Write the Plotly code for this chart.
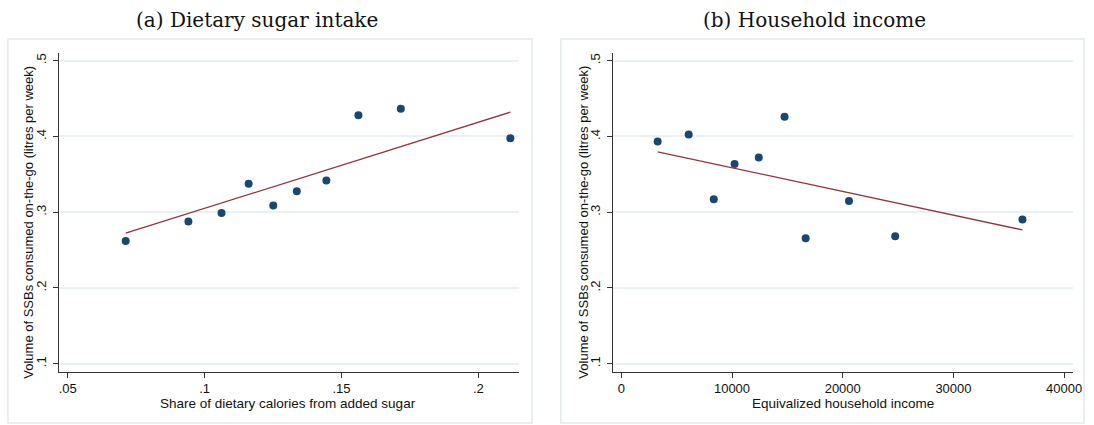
import plotly.graph_objects as go

# Binned means: share of calories from added sugar vs. SSB volume on-the-go
sugar_share = [0.0712, 0.0941, 0.1062, 0.1161, 0.1251, 0.1337, 0.1445, 0.1562, 0.1717, 0.2117]
sugar_volume = [0.2621, 0.2877, 0.2991, 0.3374, 0.3088, 0.3277, 0.3419, 0.4281, 0.4365, 0.3978]
# Fitted line (from the underlying micro data) at the outer bin positions
sugar_fit_x = [0.0712, 0.2117]
sugar_fit_y = [0.2723, 0.4321]

# Binned means: equivalized household income vs. SSB volume on-the-go
income = [3286, 6088, 8353, 10233, 12417, 14745, 16652, 20564, 24736, 36231]
income_volume = [0.3934, 0.4026, 0.3172, 0.3638, 0.3723, 0.4259, 0.2657, 0.3149, 0.2683, 0.2904]
income_fit_x = [3286, 36231]
income_fit_y = [0.3797, 0.2766]

y_ticks = [0.1, 0.2, 0.3, 0.4, 0.5]
y_ticklabels = [".1", ".2", ".3", ".4", ".5"]
sugar_ticks = [0.05, 0.1, 0.15, 0.2]
sugar_ticklabels = [".05", ".1", ".15", ".2"]
income_ticks = [0, 10000, 20000, 30000, 40000]
income_ticklabels = ["0", "10000", "20000", "30000", "40000"]

panel_titles = ["(a) Dietary sugar intake", "(b) Household income"]
x_titles = ["Share of dietary calories from added sugar", "Equivalized household income"]
y_title = "Volume of SSBs consumed on-the-go (litres per week)"

W, H = 1094, 425
NAVY = "#1a476f"
MAROON = "#90353b"
GRID = "#eaf1f2"
FRAME = "#e2eaeb"
AXIS = "#333333"
SANS = "Liberation Sans, Arial, sans-serif"
SERIF = "DejaVu Serif, Liberation Serif, serif"


def px_x(p):
    return p / W


def px_y(p):
    return 1 - p / H


fig = go.Figure()

# scatter + fit, left panel
fig.add_trace(go.Scatter(x=sugar_share, y=sugar_volume, mode="markers",
                         marker=dict(color=NAVY, size=8), xaxis="x", yaxis="y",
                         showlegend=False))
fig.add_trace(go.Scatter(x=sugar_fit_x, y=sugar_fit_y, mode="lines",
                         line=dict(color=MAROON, width=1.3), xaxis="x", yaxis="y",
                         showlegend=False))
# scatter + fit, right panel
fig.add_trace(go.Scatter(x=income, y=income_volume, mode="markers",
                         marker=dict(color=NAVY, size=8), xaxis="x2", yaxis="y2",
                         showlegend=False))
fig.add_trace(go.Scatter(x=income_fit_x, y=income_fit_y, mode="lines",
                         line=dict(color=MAROON, width=1.3), xaxis="x2", yaxis="y2",
                         showlegend=False))

plot_top, plot_bottom = 53, 371.7
left_dom = [px_x(59), px_x(523)]
right_dom = [px_x(617.7), px_x(1082)]
y_dom = [px_y(plot_bottom), px_y(plot_top)]

common_x = dict(showgrid=False, zeroline=False, showline=True, linecolor=AXIS, linewidth=1,
                ticks="outside", ticklen=5, tickcolor=AXIS, tickwidth=1,
                tickfont=dict(family=SANS, size=13, color="#111"))
common_y = dict(showgrid=True, gridcolor=GRID, gridwidth=1.5, zeroline=False, showline=True,
                linecolor=AXIS, linewidth=1, ticks="outside", ticklen=5, tickcolor=AXIS,
                tickwidth=1, tickangle=-90, tickvals=y_ticks, ticktext=y_ticklabels,
                ticklabelstandoff=2,
                range=[0.0894, 0.5102], tickfont=dict(family=SANS, size=13, color="#111"))

fig.update_layout(
    width=W, height=H,
    margin=dict(l=0, r=0, t=0, b=0),
    paper_bgcolor="white", plot_bgcolor="white",
    xaxis=dict(domain=left_dom, anchor="y", range=[0.047, 0.21494],
               tickvals=sugar_ticks, ticktext=sugar_ticklabels, **common_x),
    yaxis=dict(domain=y_dom, anchor="x", **common_y),
    xaxis2=dict(domain=right_dom, anchor="y2", range=[-743, 40806],
                tickvals=income_ticks, ticktext=income_ticklabels, **common_x),
    yaxis2=dict(domain=y_dom, anchor="x2", **common_y),
)

# light frames around each panel
for x0, x1 in [(7, 536), (565, 1093)]:
    fig.add_shape(type="rect", xref="paper", yref="paper",
                  x0=px_x(x0), x1=px_x(x1), y0=px_y(423), y1=px_y(39),
                  line=dict(color=FRAME, width=1.5), fillcolor="rgba(0,0,0,0)", layer="below")

# panel titles
for xc, txt in zip([258, 821], panel_titles):
    fig.add_annotation(text=txt, xref="paper", yref="paper", x=px_x(xc), y=px_y(20),
                       showarrow=False, xanchor="center", yanchor="middle",
                       font=dict(family=SERIF, size=20, color="#111"))

# x-axis titles
for xc, txt in zip([290, 850], x_titles):
    fig.add_annotation(text=txt, xref="paper", yref="paper", x=px_x(xc), y=px_y(403),
                       showarrow=False, xanchor="center", yanchor="middle",
                       font=dict(family=SANS, size=13.5, color="#111"))

# y-axis titles
for xc in [27, 587]:
    fig.add_annotation(text=y_title, xref="paper", yref="paper", x=px_x(xc), y=px_y(222),
                       showarrow=False, xanchor="center", yanchor="middle", textangle=-90,
                       font=dict(family=SANS, size=13, color="#111"))

fig.write_html("out.html")
